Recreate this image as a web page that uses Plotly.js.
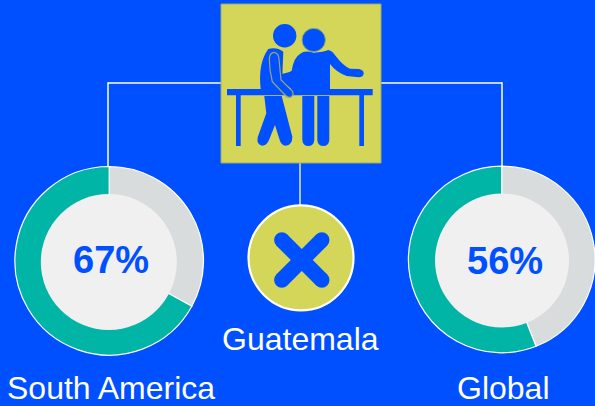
<!DOCTYPE html>
<html><head><meta charset="utf-8">
<script src="https://cdn.plot.ly/plotly-3.0.1.min.js"></script>
<style>html,body{margin:0;padding:0;background:#0050ff}#c{width:595px;height:406px}</style>
</head><body><div id="c"></div>
<script>
const regions = ["South America", "Global"];
const regionValues = [67, 56];
const labelsPie = ["Other", "Share"];
const countryLabel = "Guatemala";
const BLUE="#0050ff", OLIVE="#d3d658", TEAL="#00b4a6", GREY="#d9dcdd", HOLE="#f0f0f0";

function pie(v, cx, cy, r){
  return {type:"pie", values:[100-v, v], labels:labelsPie, sort:false, direction:"clockwise", rotation:0,
    hole:0.66, textinfo:"none", hoverinfo:"none", showlegend:false,
    marker:{colors:[GREY,TEAL], line:{color:"#ffffff", width:1.2}},
    domain:{x:[(cx-r)/595,Math.min(1,(cx+r)/595)], y:[1-(cy+r)/406,1-(cy-r)/406]}};
}
// icon outlines are given in crop coordinates (3x, origin 215,0)
function zp(s){
  return s.replace(/(-?[\d.]+) (-?[\d.]+)/g,(m,a,b)=>(215+a/3).toFixed(1)+" "+(b/3).toFixed(1));
}
function path(s,fill,lc,lw){return {type:"path",xref:"x",yref:"y",path:zp(s),fillcolor:fill,line:{color:lc||fill,width:lw||0},layer:"above"};}
function circ(cx,cy,r,fill,lc,lw){return {type:"circle",xref:"x",yref:"y",x0:cx-r,x1:cx+r,y0:cy-r,y1:cy+r,fillcolor:fill,line:{color:lc||fill,width:lw||0},layer:"above"};}
function rect(x0,y0,x1,y1,fill,lc,lw){return {type:"rect",xref:"x",yref:"y",x0,x1,y0,y1,fillcolor:fill,line:{color:lc||fill,width:lw||0},layer:"above"};}
function seg(x0,y0,x1,y1,c,w){return {type:"line",xref:"x",yref:"y",x0,x1,y0,y1,line:{color:c,width:w},layer:"above"};}

const shapes=[
  seg(108,83,221,83,"#ffffff",1.5), seg(108,82.3,108,167,"#ffffff",1.5),
  seg(381,83,502,83,"#ffffff",1.5), seg(502,82.3,502,166,"#ffffff",1.5),
  seg(300,163,300,205,"#dfe6fb",1.5),
  circ(108.8,262,68,HOLE), circ(502,260.5,67,HOLE),
  rect(221,4,381,163,OLIVE,"#9aa86e",1),
  // table
  rect(227,89,372.7,95.3,BLUE),
  rect(236,95,240.7,146,BLUE), rect(359.3,95,364,146,BLUE),
  // therapist
  path("M 258 160 Q 268 150 296 158 Q 325 156 340 150 Q 352 152 362 168 Q 385 198 405 206 L 432 207 Q 447 210 446 221 Q 444 232 430 232 L 395 228 Q 365 218 345 192 L 345 268 L 230 268 L 200 244 L 196 222 Q 218 220 230 212 Q 236 172 258 160 Z",BLUE),
  path("M 262 288 L 298 288 L 298 420 Q 296 438 280 438 Q 264 438 262 420 Z",BLUE),
  path("M 307 288 L 343 288 L 343 420 Q 341 438 325 438 Q 309 438 307 420 Z",BLUE),
  // patient
  path("M 160 147 Q 185 140 205 155 Q 203 200 200 268 L 137 268 Q 128 190 160 147 Z",BLUE),
  path("M 148 288 L 200 288 L 232 410 Q 232 436 212 437 Q 198 436 194 420 L 180 375 L 162 420 Q 155 437 142 437 Q 124 434 128 412 L 154 340 Z",BLUE),
  path("M 163 175 Q 165 158 178 157 Q 192 160 192 178 L 198 240 L 232 273 Q 238 285 228 291 Q 218 295 210 285 L 172 245 Q 163 210 163 175 Z",BLUE,"#9aa86e",1.2),
  circ(284.7,35.7,11.7,BLUE),
  circ(313.7,40,11.7,BLUE,"#9aa86e",1),
  // Guatemala badge
  circ(301,257.8,52.5,OLIVE,"#ffffff",2.2),
  seg(281.8,240,321.8,280,BLUE,15.5), seg(321.8,240,281.8,280,BLUE,15.5),
  circ(281.8,240,7.7,BLUE), circ(321.8,240,7.7,BLUE), circ(281.8,280,7.7,BLUE), circ(321.8,280,7.7,BLUE)
];
function ann(text,x,y,size,color,bold){return {xref:"x",yref:"y",x,y,text:bold?"<b>"+text+"</b>":text,showarrow:false,xanchor:"center",yanchor:"middle",font:{family:"Liberation Sans, Arial, sans-serif",size,color}};}
const annotations=[
  ann(regionValues[0]+"%",111,260,38,BLUE,true),
  ann(regionValues[1]+"%",505,261,38,BLUE,true),
  ann(regions[0],110.5,388,32,"#ffffff"),
  ann(regions[1],503.5,388,32,"#ffffff"),
  ann(countryLabel,300.5,339,32,"#ffffff")
];
Plotly.newPlot("c",[pie(regionValues[0],109.2,260.8,94.3),pie(regionValues[1],501.8,259.5,93.4)],{
  width:595,height:406,margin:{l:0,r:0,t:0,b:0},paper_bgcolor:BLUE,plot_bgcolor:BLUE,showlegend:false,
  xaxis:{range:[0,595],visible:false,fixedrange:true},
  yaxis:{range:[406,0],visible:false,fixedrange:true},
  shapes,annotations
},{displayModeBar:false,staticPlot:true});
</script></body></html>
